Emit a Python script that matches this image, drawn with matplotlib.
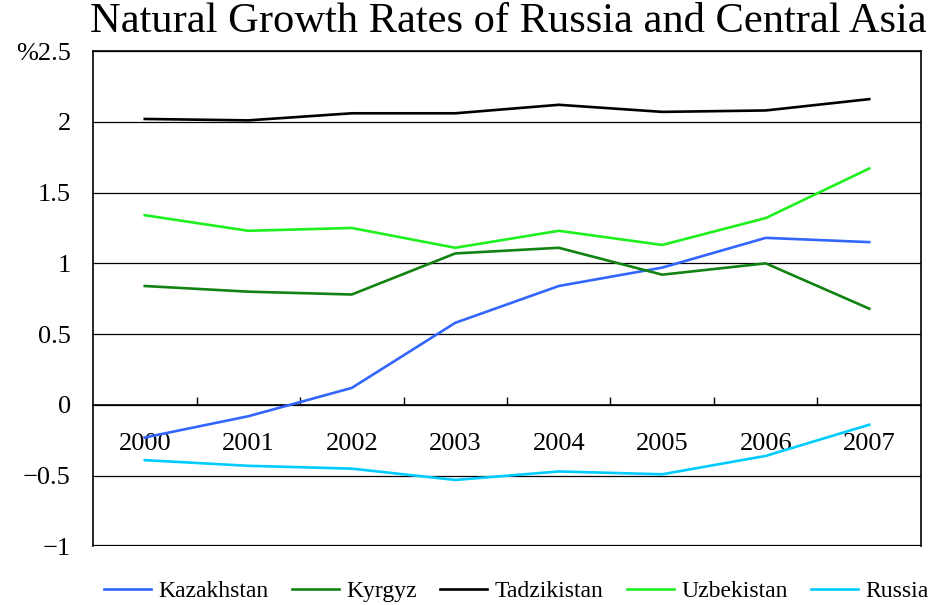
import numpy as np
import matplotlib.pyplot as plt
from matplotlib.ticker import FixedLocator, FuncFormatter

years = ['2000', '2001', '2002', '2003', '2004', '2005', '2006', '2007']
kazakhstan = [-0.23, -0.08, 0.12, 0.58, 0.84, 0.97, 1.18, 1.15]
kyrgyz = [0.84, 0.80, 0.78, 1.07, 1.11, 0.92, 1.00, 0.68]
tadzikistan = [2.02, 2.01, 2.06, 2.06, 2.12, 2.07, 2.08, 2.16]
uzbekistan = [1.34, 1.23, 1.25, 1.11, 1.23, 1.13, 1.32, 1.67]
russia = [-0.39, -0.43, -0.45, -0.53, -0.47, -0.49, -0.36, -0.14]

series = [
    ('Kazakhstan', kazakhstan, '#3366ff'),
    ('Kyrgyz', kyrgyz, '#128212'),
    ('Tadzikistan', tadzikistan, '#000000'),
    ('Uzbekistan', uzbekistan, '#1ef01e'),
    ('Russia', russia, '#00ccff'),
]

plt.rcParams['font.family'] = ['Liberation Serif', 'DejaVu Serif']

fig = plt.figure(figsize=(9.35, 6.05), dpi=100)
ax = fig.add_axes([0.0995, 0.0967, 0.8855, 0.819])

x = np.arange(len(years))
for name, vals, col in series:
    ax.plot(x, vals, color=col, lw=1.9, label=name, zorder=3)

ax.set_xlim(-0.5, len(years) - 0.5)
ax.set_ylim(-1, 2.5)
ax.set_yticks(np.arange(-1, 2.51, 0.5))
ax.yaxis.set_major_formatter(FuncFormatter(
    lambda v, p: '%2.5' if abs(v - 2.5) < 1e-9 else ('%g' % v).replace('-', '\u2212')))
ax.tick_params(axis='y', length=0, pad=16, labelsize=19)
ax.yaxis.grid(True, color='black', lw=0.9)
ax.set_axisbelow(True)

ax.spines['bottom'].set_position(('data', 0))
ax.axhline(-1, color='black', lw=1.6, zorder=4)
for s in ax.spines.values():
    s.set_linewidth(1.2)
ax.set_xticks(x)
ax.set_xticklabels(years)
ax.xaxis.set_minor_locator(FixedLocator(np.arange(0.5, len(years) - 1, 1)))
ax.tick_params(axis='x', which='major', length=0, pad=20, labelsize=19)
ax.tick_params(axis='x', which='minor', direction='in', length=6, width=1)

fig.text(0.544, 0.964, 'Natural Growth Rates of Russia and Central Asia',
         ha='center', va='center', fontsize=30.6)

fig.legend(loc='lower center', bbox_to_anchor=(0.552, -0.03), ncol=5,
           frameon=False, fontsize=17, handlelength=2.0, handletextpad=0.3,
           columnspacing=1.0)

fig.savefig('out.png', dpi=100)
